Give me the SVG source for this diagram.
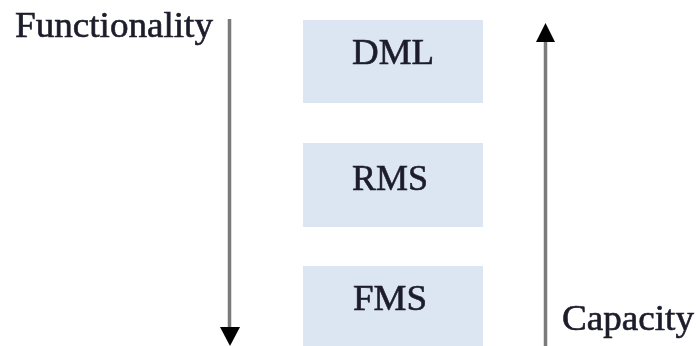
<svg xmlns="http://www.w3.org/2000/svg" width="697" height="346" viewBox="0 0 697 346">
  <style>
    .box { fill: #dce6f2; }
    .label { font-family: "Liberation Serif", "Times New Roman", serif; font-size: 36px; fill: #1c1c2a; stroke: #1c1c2a; stroke-width: 0.6; }
    .axis { stroke: #7a7a7a; stroke-width: 3.5; fill: none; }
    .head { fill: #000; }
  </style>
  <defs>
    <filter id="soft" x="-5%" y="-5%" width="110%" height="110%">
      <feGaussianBlur stdDeviation="0.4"/>
    </filter>
  </defs>
  <rect width="697" height="346" fill="#fff"/>
  <g filter="url(#soft)">
    <g id="dml">
      <rect class="box" x="303" y="20" width="180" height="83"/>
      <text class="label" x="352" y="64" textLength="82" lengthAdjust="spacingAndGlyphs">DML</text>
    </g>
    <g id="rms">
      <rect class="box" x="303" y="143" width="180" height="84"/>
      <text class="label" x="352" y="190" textLength="76" lengthAdjust="spacingAndGlyphs">RMS</text>
    </g>
    <g id="fms">
      <rect class="box" x="303" y="266" width="180" height="80"/>
      <text class="label" x="353" y="310" textLength="74" lengthAdjust="spacingAndGlyphs">FMS</text>
    </g>
    <g id="functionality">
      <text class="label" x="15" y="37" textLength="198" lengthAdjust="spacingAndGlyphs">Functionality</text>
    </g>
    <g id="capacity">
      <text class="label" x="562" y="330" textLength="132" lengthAdjust="spacingAndGlyphs">Capacity</text>
    </g>
    <g id="connectors">
      <line class="axis" x1="229.5" y1="19" x2="229.5" y2="330"/>
      <polygon class="head" points="220,327 240,327 230,346"/>
      <line class="axis" x1="545.5" y1="40" x2="545.5" y2="346"/>
      <polygon class="head" points="536,42 555,42 545.5,23"/>
    </g>
  </g>
</svg>
